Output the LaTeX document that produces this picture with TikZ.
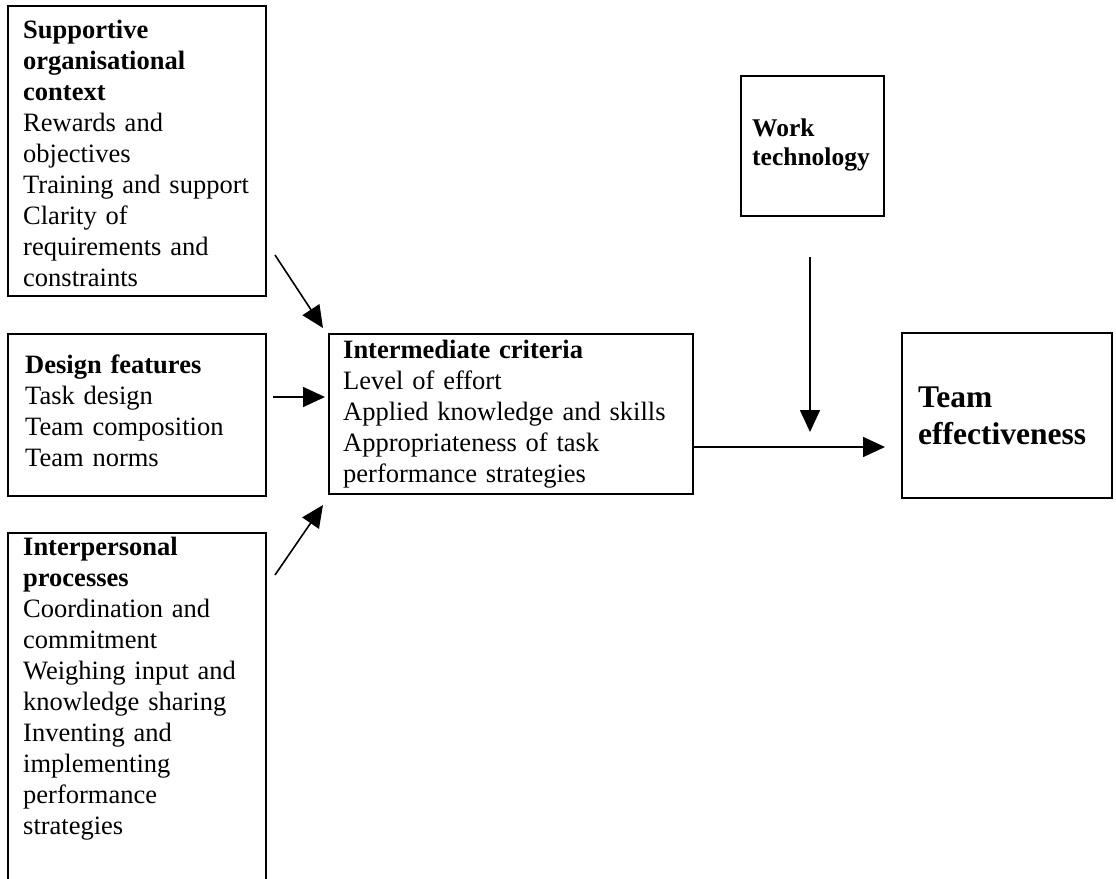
\documentclass[tikz,border=0pt]{standalone}
\usepackage{fontspec}
\setmainfont{Liberation Serif}
\usetikzlibrary{arrows.meta}
\begin{document}
\begin{tikzpicture}[x=1pt,y=-1pt,
  frame/.style={draw, line width=1.5pt, inner sep=0pt, anchor=north west},
  txt/.style={anchor=base west, align=left, inner sep=0pt, text width=400pt,
    font=\fontsize{26.5}{31}\selectfont},
  big/.style={anchor=base west, align=left, inner sep=0pt, text width=300pt,
    font=\fontsize{31.5}{37}\selectfont\bfseries},
  conn/.style={line width=1.6pt, -{Triangle[length=22pt,width=20pt]}}]
\useasboundingbox (0,0) rectangle (1116,878);
\clip (0,0) rectangle (1116,878);
% boxes
\node[frame, minimum width=258pt, minimum height=290pt] (b1) at (7,5) {};
\node[frame, minimum width=258pt, minimum height=162pt] (b2) at (7,333) {};
\node[frame, minimum width=258pt, minimum height=360pt] (b3) at (7,532) {};
\node[frame, minimum width=364pt, minimum height=160pt] (im) at (328,333) {};
\node[frame, minimum width=143pt, minimum height=140pt] (wt) at (740,75) {};
\node[frame, minimum width=210pt, minimum height=165pt] (te) at (901,332) {};
% texts
\node[txt] (t1) at (23,38) {\textbf{Supportive}\\\textbf{organisational}\\\textbf{context}\\Rewards and\\objectives\\Training and support\\Clarity of\\requirements and\\constraints};
\node[txt] (t2) at (25,373) {\textbf{Design features}\\Task design\\Team composition\\Team norms};
\node[txt] (t3) at (23,555) {\textbf{Interpersonal}\\\textbf{processes}\\Coordination and\\commitment\\Weighing input and\\knowledge sharing\\Inventing and\\implementing\\performance\\strategies};
\node[txt] (t4) at (343,358) {\textbf{Intermediate criteria}\\Level of effort\\Applied knowledge and skills\\Appropriateness of task\\performance strategies};
\node[txt, font=\fontsize{25.5}{29}\selectfont\bfseries] (t5) at (752,136) {Work\\technology};
\node[big] (t6) at (918,407) {Team\\effectiveness};
% connectors
\coordinate (s1) at (275,255);
\coordinate (e1) at (323,328);
\coordinate (s2) at (273,397);
\coordinate (e2) at (325,397);
\coordinate (s3) at (275,575);
\coordinate (e3) at (323,505);
\coordinate (s5) at (810,257);
\coordinate (e5) at (810,432);
\coordinate (e4) at (885,447);
\draw[conn] (s1) -- (e1);
\draw[conn] (s2) -- (e2);
\draw[conn] (s3) -- (e3);
\draw[conn] (im.east |- e4) -- (e4);
\draw[conn] (s5) -- (e5);
\end{tikzpicture}
\end{document}
